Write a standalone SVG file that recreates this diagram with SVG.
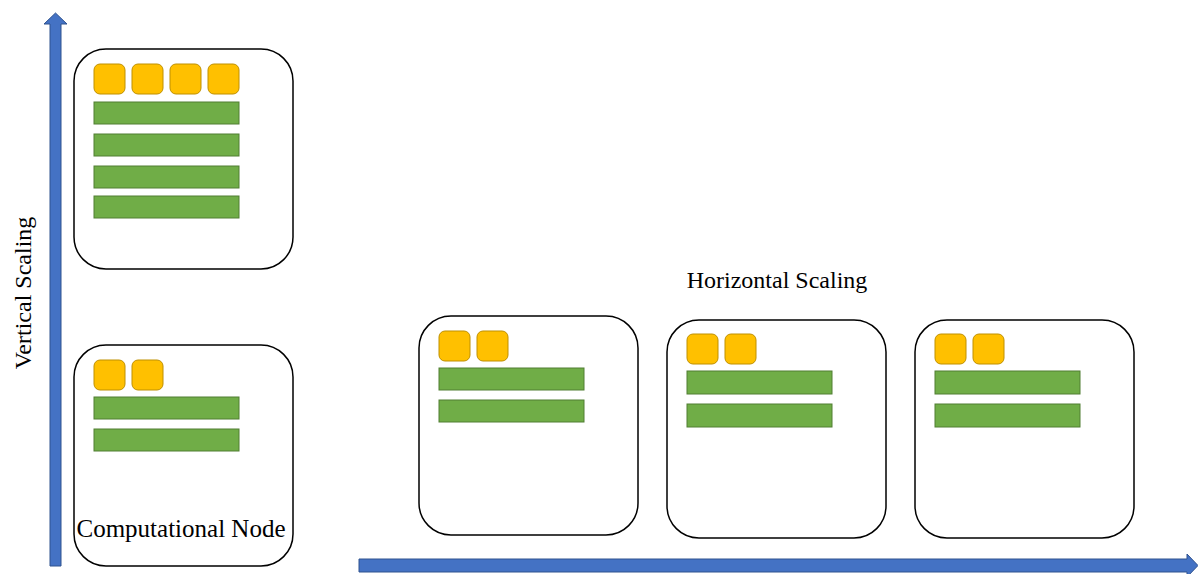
<svg xmlns="http://www.w3.org/2000/svg" width="1198" height="574" viewBox="0 0 1198 574">
<style>
.node{fill:#fff;stroke:#000;stroke-width:1.5}
.core{fill:#FFC000;stroke:#BF9000;stroke-width:1}
.mem{fill:#70AD47;stroke:#507E32;stroke-width:1}
.arrow{fill:#4472C4;stroke:#2F528F;stroke-width:1}
.lbl{font-family:"Liberation Serif","Times New Roman",serif;font-size:24px;fill:#000}
</style>
<rect width="1198" height="574" fill="#fff"/>
<g id="connectors">
<polygon class="arrow" points="50,566 50,24 44,24 55.5,13 67,24 61,24 61,566"/>
<polygon class="arrow" points="359,559 1187,559 1187,554 1198,565.5 1187,577 1187,572 359,572"/>
</g>
<text class="lbl" text-anchor="middle" transform="translate(31,293) rotate(-90)">Vertical Scaling</text>
<text class="lbl" x="777" y="288" text-anchor="middle">Horizontal Scaling</text>
<g id="node-large">
<rect class="node" x="74" y="49" width="219" height="220" rx="32"/>
<rect class="core" x="94" y="64" width="31" height="30" rx="6"/>
<rect class="core" x="132" y="64" width="31" height="30" rx="6"/>
<rect class="core" x="170" y="64" width="31" height="30" rx="6"/>
<rect class="core" x="208" y="64" width="31" height="30" rx="6"/>
<rect class="mem" x="94" y="102" width="145" height="22"/>
<rect class="mem" x="94" y="134" width="145" height="22"/>
<rect class="mem" x="94" y="166" width="145" height="22"/>
<rect class="mem" x="94" y="196" width="145" height="22"/>
</g>
<g id="node-base">
<rect class="node" x="74" y="345" width="219" height="221" rx="32"/>
<rect class="core" x="94" y="360" width="31" height="30" rx="6"/>
<rect class="core" x="132" y="360" width="31" height="30" rx="6"/>
<rect class="mem" x="94" y="397" width="145" height="22"/>
<rect class="mem" x="94" y="429" width="145" height="22"/>
<text class="lbl" x="181" y="537" text-anchor="middle" style="font-size:25px">Computational Node</text>
</g>
<g id="node-h1">
<rect class="node" x="419" y="316" width="219" height="219" rx="32"/>
<rect class="core" x="439" y="331" width="31" height="30" rx="6"/>
<rect class="core" x="477" y="331" width="31" height="30" rx="6"/>
<rect class="mem" x="439" y="368" width="145" height="22"/>
<rect class="mem" x="439" y="400" width="145" height="22"/>
</g>
<g id="node-h2">
<rect class="node" x="667" y="320" width="219" height="218" rx="32"/>
<rect class="core" x="687" y="334" width="31" height="30" rx="6"/>
<rect class="core" x="725" y="334" width="31" height="30" rx="6"/>
<rect class="mem" x="687" y="371" width="145" height="23"/>
<rect class="mem" x="687" y="404" width="145" height="23"/>
</g>
<g id="node-h3">
<rect class="node" x="915" y="320" width="219" height="218" rx="32"/>
<rect class="core" x="935" y="334" width="31" height="30" rx="6"/>
<rect class="core" x="973" y="334" width="31" height="30" rx="6"/>
<rect class="mem" x="935" y="371" width="145" height="23"/>
<rect class="mem" x="935" y="404" width="145" height="23"/>
</g>
</svg>
